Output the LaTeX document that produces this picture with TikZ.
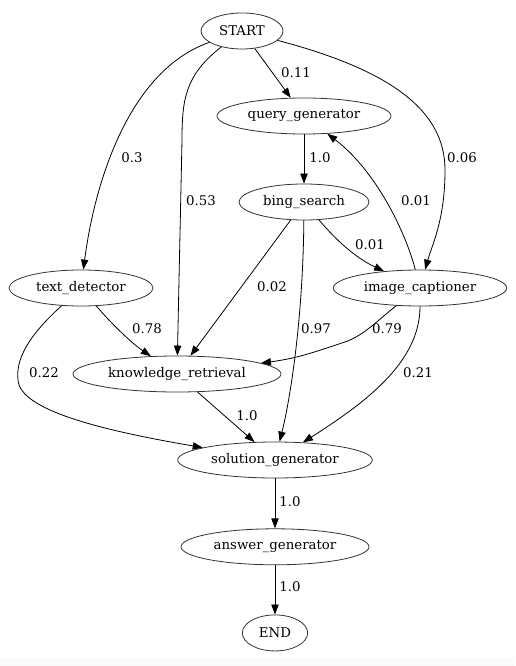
\documentclass[tikz,border=0pt]{standalone}
\usepackage{fontspec}
\setmainfont{DejaVu Serif}
\usetikzlibrary{shapes.geometric, arrows.meta, positioning}
\tikzset{
    agent/.style={ellipse, draw=black!80, line width=0.6pt, inner sep=0pt, minimum height=27pt, text centered, font=\fontsize{10}{12}\selectfont},
    wire/.style={-{Triangle[length=7.5pt, width=5.5pt]}, line width=0.6pt},
    weight/.style={font=\fontsize{10}{12}\selectfont},
}

\begin{document}
\begin{tikzpicture}[x=0.75pt, y=-0.75pt]
        \useasboundingbox (0,0) rectangle (515,666);
        \fill[black!2] (0,658) rectangle (515,666);

        % Entry and search branch
        \node[agent, minimum width=61.5pt] (start) at (242,31) {START};
        \node[agent, minimum width=130.5pt] (qgen) at (304,116) {query\_generator};
        \node[agent, minimum width=97.5pt] (bsearch) at (304,202) {bing\_search};

        % Middle layer
        \node[agent, minimum width=108pt] (tdet) at (81,288) {text\_detector};
        \node[agent, minimum width=130pt] (icap) at (420,288) {image\_captioner};
        \node[agent, minimum width=156pt] (kretr) at (177,374) {knowledge\_retrieval};

        % Output chain
        \node[agent, minimum width=146pt] (sgen) at (275,460) {solution\_generator};
        \node[agent, minimum width=141pt, below=37.5pt of sgen] (agen) {answer\_generator};
        \node[agent, minimum width=49pt, below=37pt of agen] (stop) {END};

        % Arrows
        \draw[wire] (start) -- (qgen) node[weight] at (296,73) {0.11};
        \draw[wire] (start) .. controls (130,70) and (95,180) .. (tdet) node[weight] at (132,158) {0.3};
        \draw[wire] (start) .. controls (185,75) and (182,100) .. (182,140) -- (kretr) node[weight] at (201,201) {0.53};
        \draw[wire] (start) .. controls (390,70) and (445,110) .. (445,170) .. controls (445,220) and (432,245) .. (icap) node[weight] at (462,158) {0.06};
        \draw[wire] (qgen) -- (bsearch) node[weight] at (320,158) {1.0};
        \draw[wire] (icap) .. controls (405,230) and (375,170) .. (qgen) node[weight] at (416,201) {0.01};
        \draw[wire] (bsearch) .. controls (340,245) and (360,260) .. (icap) node[weight] at (370,245) {0.01};
        \draw[wire] (bsearch) -- (kretr) node[weight] at (272,287) {0.02};
        \draw[wire] (bsearch) .. controls (303,320) and (290,400) .. (sgen) node[weight] at (316,329) {0.97};
        \draw[wire] (tdet) .. controls (110,322) and (130,342) .. (kretr) node[weight] at (147,329) {0.78};
        \draw[wire] (tdet) .. controls (35,330) and (15,355) .. (18,380) .. controls (20,410) and (100,430) .. (sgen) node[weight] at (44,373) {0.22};
        \draw[wire] (icap) .. controls (380,318) and (365,335) .. (345,342) .. controls (320,350) and (300,358) .. (kretr) node[weight] at (387,329) {0.79};
        \draw[wire] (icap) .. controls (420,360) and (370,400) .. (sgen) node[weight] at (418,373) {0.21};
        \draw[wire] (kretr) -- (sgen) node[weight] at (247,416) {1.0};
        \draw[wire] (sgen) -- (agen) node[weight] at (290,502) {1.0};
        \draw[wire] (agen) -- (stop) node[weight] at (290,587) {1.0};
    \end{tikzpicture}
\end{document}
